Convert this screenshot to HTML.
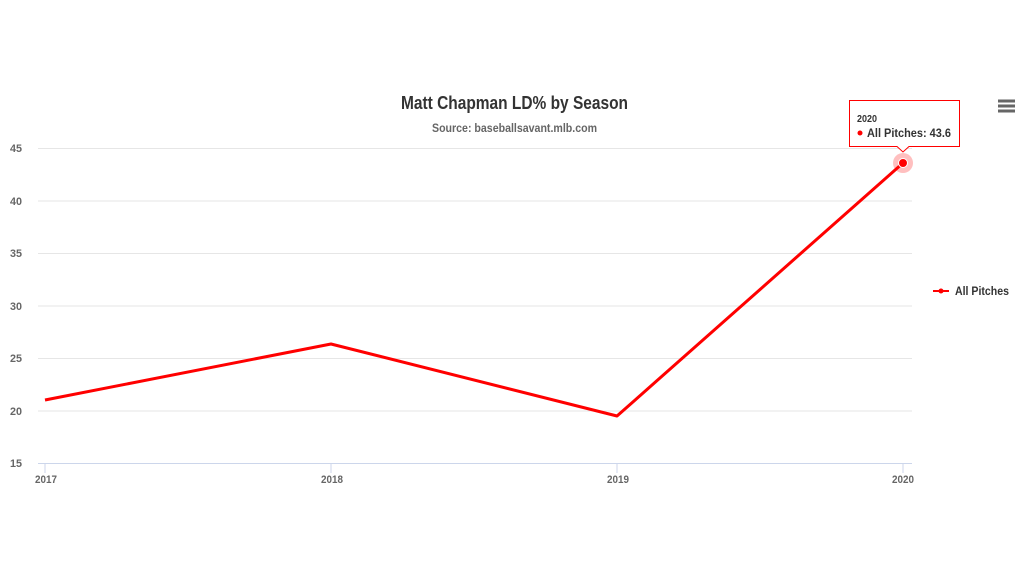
<!DOCTYPE html>
<html><head><meta charset="utf-8"><style>
html,body{margin:0;padding:0;background:#fff;width:1024px;height:576px;overflow:hidden}
text{font-family:"Liberation Sans",sans-serif}
</style></head><body>
<svg width="1024" height="576" viewBox="0 0 1024 576" xmlns="http://www.w3.org/2000/svg">
<rect width="1024" height="576" fill="#fff"/>
<text x="401" y="109" font-size="18" font-weight="bold" fill="#333" textLength="227" lengthAdjust="spacingAndGlyphs">Matt Chapman LD% by Season</text>
<text x="432" y="132" font-size="12" font-weight="bold" fill="#666" textLength="165" lengthAdjust="spacingAndGlyphs">Source: baseballsavant.mlb.com</text>
<g stroke="#e6e6e6" stroke-width="1">
<line x1="38" x2="912" y1="148.5" y2="148.5"/>
<line x1="38" x2="912" y1="201" y2="201"/>
<line x1="38" x2="912" y1="253.5" y2="253.5"/>
<line x1="38" x2="912" y1="306" y2="306"/>
<line x1="38" x2="912" y1="358.5" y2="358.5"/>
<line x1="38" x2="912" y1="411" y2="411"/>
</g>
<line x1="38" x2="912" y1="463.5" y2="463.5" stroke="#ccd6eb"/>
<g stroke="#ccd6eb"><line x1="45" x2="45" y1="463" y2="473"/><line x1="331" x2="331" y1="463" y2="473"/><line x1="617" x2="617" y1="463" y2="473"/><line x1="903" x2="903" y1="463" y2="473"/></g>
<g font-size="11" font-weight="bold" fill="#666" lengthAdjust="spacingAndGlyphs">
<text x="10" y="152" textLength="12" lengthAdjust="spacingAndGlyphs">45</text><text x="10" y="205" textLength="12" lengthAdjust="spacingAndGlyphs">40</text><text x="10" y="257" textLength="12" lengthAdjust="spacingAndGlyphs">35</text><text x="10" y="310" textLength="12" lengthAdjust="spacingAndGlyphs">30</text><text x="10" y="362" textLength="12" lengthAdjust="spacingAndGlyphs">25</text><text x="10" y="415" textLength="12" lengthAdjust="spacingAndGlyphs">20</text><text x="10" y="467" textLength="12" lengthAdjust="spacingAndGlyphs">15</text>
<text x="35" y="483" textLength="22" lengthAdjust="spacingAndGlyphs">2017</text><text x="321" y="483" textLength="22" lengthAdjust="spacingAndGlyphs">2018</text><text x="607" y="483" textLength="22" lengthAdjust="spacingAndGlyphs">2019</text><text x="892" y="483" textLength="22" lengthAdjust="spacingAndGlyphs">2020</text>
</g>
<polyline points="45,400 331,344 617,416 903,163" fill="none" stroke="#f00" stroke-width="3" stroke-linejoin="round"/>
<circle cx="903" cy="163" r="10" fill="#f00" fill-opacity="0.25"/>
<circle cx="903" cy="163" r="4.5" fill="#f00" stroke="#fff" stroke-width="1"/>
<g>
<path d="M849.5,100.5 H959.5 V146.5 H909 L903,152 L897,146.5 H849.5 Z" fill="#fff" fill-opacity="0.95" stroke="#f00" stroke-width="1"/>
<text x="857" y="122" font-size="10" font-weight="bold" fill="#333" textLength="20" lengthAdjust="spacingAndGlyphs">2020</text>
<circle cx="860" cy="133" r="2.5" fill="#f00"/>
<text x="867" y="137" font-size="12" font-weight="bold" fill="#333" textLength="84" lengthAdjust="spacingAndGlyphs">All Pitches: 43.6</text>
</g>
<line x1="933" x2="949" y1="291" y2="291" stroke="#f00" stroke-width="2"/>
<circle cx="941" cy="291" r="2.5" fill="#f00"/>
<text x="955" y="295" font-size="12" font-weight="bold" fill="#333" textLength="54" lengthAdjust="spacingAndGlyphs">All Pitches</text>
<g stroke="#666" stroke-width="3"><line x1="998" x2="1015" y1="101" y2="101"/><line x1="998" x2="1015" y1="106" y2="106"/><line x1="998" x2="1015" y1="111" y2="111"/></g>
</svg>
</body></html>
